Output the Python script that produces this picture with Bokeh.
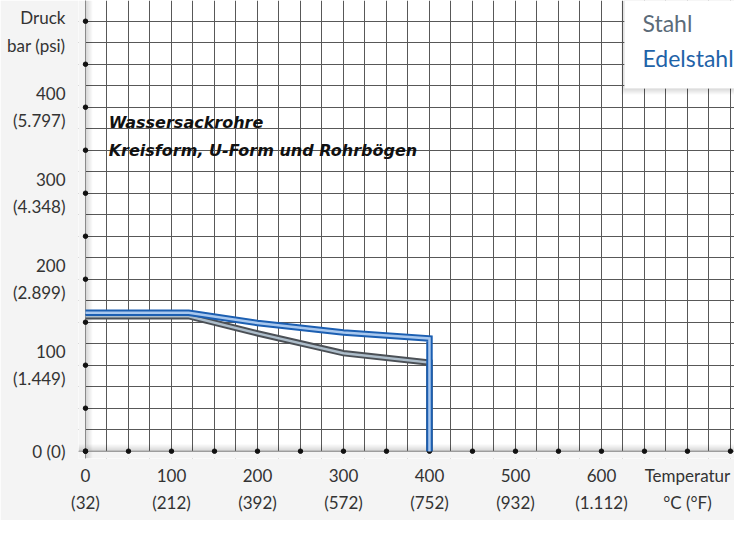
from bokeh.plotting import figure
from bokeh.models import FixedTicker, BoxAnnotation, Label, Span, Range1d
from bokeh.embed import file_html
from bokeh.resources import INLINE

# ---- data ----
x_ticks = [0, 100, 200, 300, 400, 500, 600, 700]
x_tick_labels = ["0\n(32)", "100\n(212)", "200\n(392)", "300\n(572)", "400\n(752)",
                 "500\n(932)", "600\n(1.112)", "Temperatur\n°C (°F)"]
y_ticks = [0, 100, 200, 300, 400, 488]
y_tick_labels = ["0 (0)", "100\n(1.449)", "200\n(2.899)", "300\n(4.348)",
                 "400\n(5.797)", "Druck\nbar (psi)"]

stahl_temp = [0, 120, 200, 300, 400, 400]
stahl_bar = [157, 157, 137, 114, 103, 0]
edel_temp = [0, 120, 200, 300, 400, 400]
edel_bar = [161, 161, 149, 138, 131, 0]

series_names = ["Stahl", "Edelstahl"]
title_lines = ["Wassersackrohre", "Kreisform, U-Form und Rohrbögen"]

FONT = "Lato"
PX = 1 / 0.86  # data units per pixel

p = figure(width=734, height=520,
           x_range=Range1d(-8.14, 754.7), y_range=Range1d(-8.5, 524.1),
           output_backend="svg", toolbar_location=None,
           min_border_left=78, min_border_right=0, min_border_top=0, min_border_bottom=62)
p.background_fill_color = "white"
p.border_fill_color = "#f4f4f4"
p.outline_line_color = None

# axes
p.xaxis.ticker = FixedTicker(ticks=x_ticks)
p.xaxis.major_label_overrides = dict(zip(x_ticks, x_tick_labels))
p.yaxis.ticker = FixedTicker(ticks=y_ticks)
p.yaxis.major_label_overrides = dict(zip(y_ticks, y_tick_labels))
for ax in (p.xaxis, p.yaxis):
    ax.axis_line_color = None
    ax.major_tick_line_color = None
    ax.minor_tick_line_color = None
    ax.major_label_text_font = FONT
    ax.major_label_text_font_size = "17px"
    ax.major_label_text_color = "#333333"
    ax.major_label_text_line_height = 1.3
p.xaxis.major_label_standoff = 0
p.yaxis.major_label_standoff = 7

# grid
p.xgrid.ticker = FixedTicker(ticks=list(range(0, 775, 25)))
p.ygrid.ticker = FixedTicker(ticks=list(range(0, 550, 25)))
for g in (p.xgrid, p.ygrid):
    g.grid_line_color = "#585858"
    g.grid_line_width = 1

# gray strips outside the chart area
p.add_layout(BoxAnnotation(right=0, fill_color="#f4f4f4", fill_alpha=1, line_color=None, level="underlay"))
p.add_layout(BoxAnnotation(top=0, fill_color="#f4f4f4", fill_alpha=1, line_color=None, level="underlay"))

# inner shadow along the axes
for i in range(7):
    a = 0.16 * (1 - i / 7)
    p.add_layout(Span(location=(i + 0.5) * PX, dimension="height", line_color="black",
                      line_alpha=a, line_width=1, level="underlay"))
    p.add_layout(Span(location=(i + 0.5) * PX, dimension="width", line_color="black",
                      line_alpha=a, line_width=1, level="underlay"))
p.add_layout(Span(location=0, dimension="height", line_color="#8a8a8a", line_width=1, level="underlay"))
p.add_layout(Span(location=0, dimension="width", line_color="#8a8a8a", line_width=1, level="underlay"))

# tick dots
dot_x = list(range(0, 751, 50))
dot_y = list(range(0, 501, 50))
p.scatter(x=dot_x, y=[0] * len(dot_x), size=4.5, color="#111111")
p.scatter(x=[0] * len(dot_y), y=dot_y, size=4.5, color="#111111")

# series (tube effect)
p.line(stahl_temp, stahl_bar, line_color="#4b5056", line_width=6.5, line_join="miter")
p.line(stahl_temp, stahl_bar, line_color="#adbdca", line_width=2.5, line_join="miter")
p.line(edel_temp, edel_bar, line_color="#1c5fb2", line_width=6.5, line_join="miter")
p.line(edel_temp, edel_bar, line_color="#a9c8ee", line_width=2.5, line_join="miter")

# title text inside chart
for txt, yv in zip(title_lines, [382, 350]):
    p.add_layout(Label(x=27, y=yv, text=txt, text_font="DejaVu Sans",
                       text_font_style="bold italic", text_font_size="16px",
                       text_color="#111111", text_baseline="middle"))

# legend box with soft shadow
for i in range(6):
    p.add_layout(BoxAnnotation(left=626.7 - (i + 1) * 0.6 * PX, bottom=421.7 - (i + 1) * PX,
                               fill_color="black", fill_alpha=0.025, line_color=None))
p.add_layout(BoxAnnotation(left=626.7, bottom=421.7, fill_color="white", fill_alpha=1,
                           line_color="#e2e2e2", line_width=1))
p.add_layout(Label(x=647.7, y=497.5, text=series_names[0], text_font=FONT,
                   text_font_size="23px", text_color="#5b6b79", text_baseline="middle"))
p.add_layout(Label(x=647.7, y=457, text=series_names[1], text_font=FONT,
                   text_font_size="23px", text_color="#1f63a8", text_baseline="middle"))

open("out.html", "w").write(file_html(p, INLINE))
